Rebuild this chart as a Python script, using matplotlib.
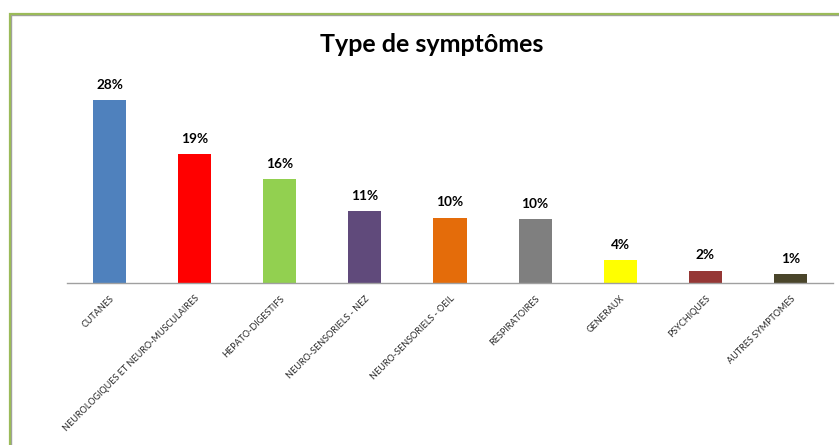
import matplotlib.pyplot as plt
from matplotlib.patches import Rectangle

# donnees du graphique
categories = ["CUTANES", "NEUROLOGIQUES ET NEURO-MUSCULAIRES", "HEPATO-DIGESTIFS",
              "NEURO-SENSORIELS - NEZ", "NEURO-SENSORIELS - OEIL", "RESPIRATOIRES",
              "GENERAUX", "PSYCHIQUES", "AUTRES SYMPTOMES"]
valeurs = [28.0, 19.7, 15.95, 11.0, 10.0, 9.75, 3.5, 1.9, 1.4]
etiquettes = ["28%", "19%", "16%", "11%", "10%", "10%", "4%", "2%", "1%"]
couleurs = ["#4f81bd", "#ff0000", "#92d050", "#604a7b", "#e46c0a",
            "#7f7f7f", "#ffff00", "#953735", "#4a452a"]

W, H = 839, 445
fig = plt.figure(figsize=(W / 100, H / 100), dpi=100)
fig.patch.set_facecolor("white")

# cadre vert (coupe a droite et en bas)
fig.patches.append(Rectangle((10.5 / W, -0.1), 1.2, 1 - 15 / H + 0.1,
                             transform=fig.transFigure, fill=False,
                             edgecolor="#a0a0a0", linewidth=1.0))
fig.patches.append(Rectangle((9.5 / W, -0.1), 1.2, 1 - 13.5 / H + 0.1,
                             transform=fig.transFigure, fill=False,
                             edgecolor="#9bbb59", linewidth=1.6))

ax = fig.add_axes([67 / W, 1 - 283 / H, (833 - 67) / W, (283 - 87) / H])
x = range(len(categories))
ax.bar(x, valeurs, width=0.39, color=couleurs)
ax.set_xlim(-0.5, len(categories) - 0.5)
ax.set_ylim(0, 30)

for i, v in enumerate(valeurs):
    ax.annotate(etiquettes[i], (i, v), xytext=(0, 11), textcoords="offset points",
                ha="center", va="center", fontsize=9.8, fontweight="bold",
                family=["Lato", "DejaVu Sans"], color="black")

for s in ["top", "right", "left"]:
    ax.spines[s].set_visible(False)
ax.spines["bottom"].set_color("#a0a0a0")
ax.spines["bottom"].set_linewidth(1)
ax.set_yticks([])
ax.set_xticks(list(x))
ax.set_xticklabels(categories, rotation=45, ha="right", va="top",
                   rotation_mode="anchor", fontsize=6.5,
                   family=["Lato", "DejaVu Sans"], color="#262626")
ax.tick_params(axis="x", length=0, pad=8)

fig.text(0.514, 1 - 45 / H, "Type de symptômes", ha="center", va="center",
         fontsize=18, fontweight="bold", family=["Lato", "DejaVu Sans"])

fig.savefig("out.png", dpi=100)
